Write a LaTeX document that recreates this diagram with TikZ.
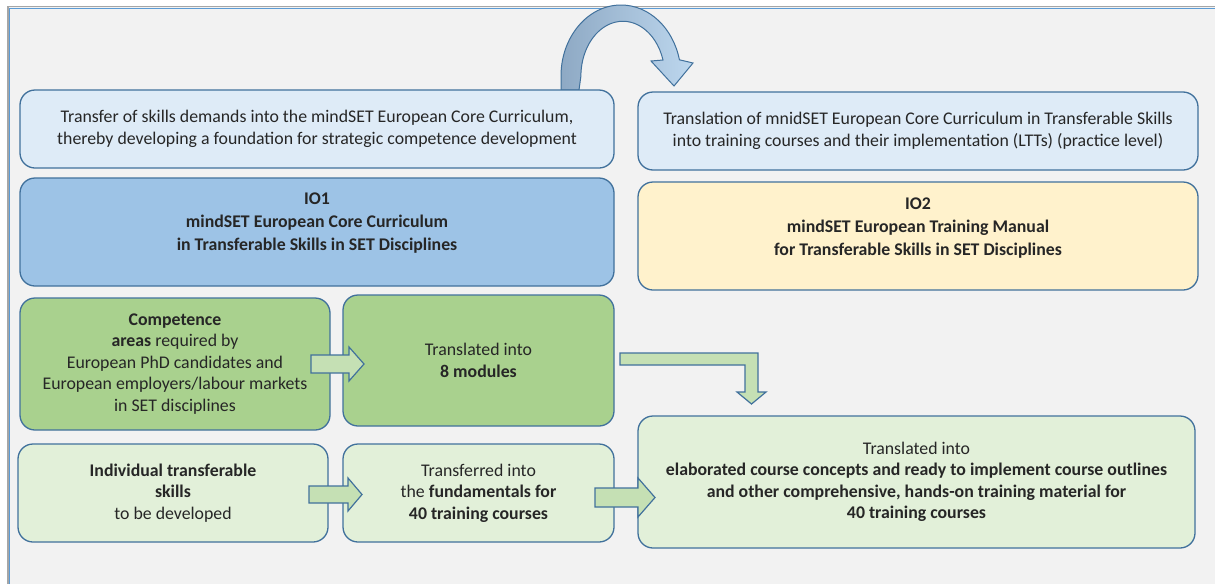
\documentclass[tikz,border=0pt]{standalone}
\usepackage{fontspec}
\setmainfont{Carlito}
\definecolor{edge}{HTML}{41719C}
\definecolor{lblue}{HTML}{DEEBF7}
\definecolor{mblue}{HTML}{9DC3E6}
\definecolor{lyel}{HTML}{FFF2CC}
\definecolor{mgreen}{HTML}{A9D18E}
\definecolor{lgreen}{HTML}{E2F0D9}
\definecolor{agreen}{HTML}{C5E0B4}
\definecolor{bg}{HTML}{F2F2F2}
\definecolor{frgrey}{HTML}{A6A6A6}
\definecolor{frblue}{HTML}{5B9BD5}
\definecolor{arcdark}{HTML}{8EA9C4}
\definecolor{arclight}{HTML}{BDD7EE}
\begin{document}
\begin{tikzpicture}[x=1pt,y=-1pt,
  box/.style={draw=edge,line width=1.3pt,rounded corners=15pt,inner sep=0pt,align=center,
    font=\fontsize{17.8}{21.5}\selectfont,text=black!85},
  txt/.style={inner sep=0pt,align=center,font=\fontsize{17.8}{21.5}\selectfont,text=black!85},
  blockarrow/.style={draw=edge,line width=1.2pt,fill=agreen,line join=miter}]
\useasboundingbox (0,0) rectangle (1215,584);
\fill[white] (0,0) rectangle (1215,584);
\fill[bg] (7,6) rectangle (1215,584);
\draw[frgrey,line width=1.6pt] (7.8,584) -- (7.8,6.6) -- (1215,6.6);
\draw[frblue,line width=0.8pt] (9.8,584) -- (9.8,8.6) -- (1215,8.6);

% curved arrow
\draw[edge,line width=1pt,left color=arcdark,right color=arclight]
  (561,90) -- (561,76) arc[start angle=180,end angle=346.8,x radius=60,y radius=71]
  -- (693,63) -- (674,86) -- (651,61) -- (663,60)
  arc[start angle=342.8,end angle=180,x radius=42,y radius=55] -- (579,90) -- cycle;

% boxes
\node[box,fill=lblue,minimum width=594pt,minimum height=78pt] (demands) at (317,129)
  {Transfer of skills demands into the mindSET European Core Curriculum,\\thereby developing a foundation for strategic competence development};
\node[box,fill=lblue,minimum width=560pt,minimum height=78pt] (translation) at (918,131)
  {Translation of mnidSET European Core Curriculum in Transferable Skills\\into training courses and their implementation (LTTs) (practice level)};
\node[box,fill=mblue,minimum width=594pt,minimum height=108pt] (io1) at (317,232) {};
\node[txt,font=\fontsize{17.8}{23}\selectfont\bfseries] (io1t) at (317,223)
  {IO1\\mindSET European Core Curriculum\\in Transferable Skills in SET Disciplines};
\node[box,fill=lyel,minimum width=560pt,minimum height=108pt] (io2) at (918,236) {};
\node[txt,font=\fontsize{17.8}{23}\selectfont\bfseries] (io2t) at (918,228)
  {IO2\\mindSET European Training Manual\\for Transferable Skills in SET Disciplines};
\node[box,fill=mgreen,minimum width=310pt,minimum height=132pt] (comp) at (175,364)
  {\textbf{Competence}\\\textbf{areas} required by\\European PhD candidates and\\European employers/labour markets\\in SET disciplines};
\node[box,fill=mgreen,minimum width=271pt,minimum height=131pt] (modules) at (478.5,360.5)
  {Translated into\\\textbf{8 modules}};
\node[box,fill=lgreen,minimum width=310pt,minimum height=98pt] (indiv) at (173,493)
  {\textbf{Individual transferable}\\\textbf{skills}\\to be developed};
\node[box,fill=lgreen,minimum width=271pt,minimum height=98pt] (fund) at (478.5,493)
  {Transferred into\\the \textbf{fundamentals for}\\\textbf{40 training courses}};
\node[box,fill=lgreen,minimum width=557pt,minimum height=132pt] (course) at (916.5,482)
  {Translated into\\\textbf{elaborated course concepts and ready to implement course outlines}\\\textbf{and other comprehensive, hands-on training material for}\\\textbf{40 training courses}};

% block arrows
\draw[blockarrow] (311,355) -- (349,355) -- (349,347) -- (364,364) -- (349,381) -- (349,373) -- (311,373) -- cycle;
\draw[blockarrow] (309,486) -- (348,486) -- (348,478) -- (362,494.5) -- (348,511) -- (348,503) -- (309,503) -- cycle;
\draw[blockarrow] (595,488) -- (638,488) -- (638,478) -- (655,497.5) -- (638,517) -- (638,507) -- (595,507) -- cycle;
\draw[blockarrow] (620,353) -- (758,353) -- (758,392) -- (766,392) -- (751.5,404) -- (737,392) -- (745,392) -- (745,365) -- (620,365) -- cycle;
\end{tikzpicture}
\end{document}
